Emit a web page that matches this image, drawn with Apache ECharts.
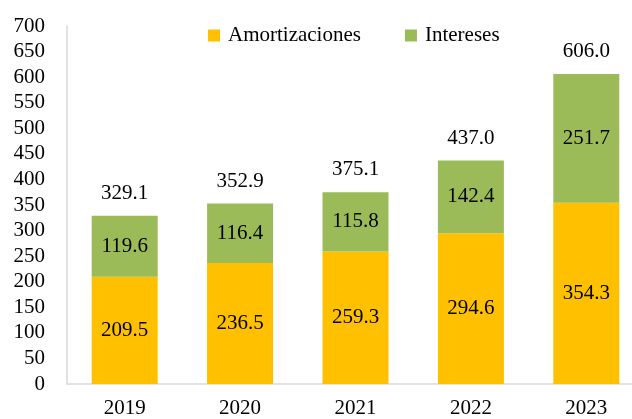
<!DOCTYPE html>
<html>
<head>
<meta charset="utf-8">
<script src="https://cdn.jsdelivr.net/npm/echarts@6/dist/echarts.min.js"></script>
<style>
  html, body { margin: 0; padding: 0; background: #fff; overflow: hidden; }
  #main { width: 644px; height: 419px; }
</style>
</head>
<body>
<div id="main"></div>
<script>
var years = ['2019', '2020', '2021', '2022', '2023'];
var amortizaciones = [209.5, 236.5, 259.3, 294.6, 354.3];
var intereses = [119.6, 116.4, 115.8, 142.4, 251.7];
var totales = years.map(function (y, i) {
    return +(amortizaciones[i] + intereses[i]).toFixed(1);
});

var font = 'Liberation Serif';
var fs = 21;
var myChart = echarts.init(document.getElementById('main'));
var option = {
    animation: false,
    textStyle: { fontFamily: font },
    legend: {
        data: ['Amortizaciones', 'Intereses'],
        left: 203,
        top: 20,
        itemWidth: 12,
        itemHeight: 12,
        itemGap: 44,
        icon: 'rect',
        textStyle: { fontFamily: font, fontSize: fs, color: '#000', padding: [0, 0, 0, 3] }
    },
    // plot area runs past the right edge of the 632px window, as in the source
    grid: { left: 67, top: 26, right: 0, bottom: 35 },
    xAxis: {
        type: 'category',
        data: years,
        axisLine: { lineStyle: { color: '#d9d9d9', width: 1.5 } },
        axisTick: { show: false },
        axisLabel: { color: '#000', fontSize: fs, fontFamily: font, margin: 14 }
    },
    yAxis: {
        type: 'value',
        min: 0,
        max: 700,
        interval: 50,
        splitLine: { show: false },
        axisLine: { show: true, lineStyle: { color: '#d9d9d9', width: 1.5 } },
        axisTick: { show: false },
        axisLabel: { color: '#000', fontSize: fs, fontFamily: font, margin: 22 }
    },
    series: [
        {
            name: 'Total',
            type: 'bar',
            data: totales,
            barWidth: 66,
            barGap: '-100%',
            z: 1,
            itemStyle: { color: 'rgba(0,0,0,0)' },
            label: {
                show: true, position: 'top', distance: 12,
                color: '#000', fontSize: fs, fontFamily: font,
                formatter: function (p) { return p.value.toFixed(1); }
            },
            tooltip: { show: false }
        },
        {
            name: 'Amortizaciones',
            type: 'bar',
            stack: 'a',
            data: amortizaciones,
            barWidth: 66,
            z: 2,
            itemStyle: { color: '#FFC000' },
            label: {
                show: true, position: 'inside',
                color: '#000', fontSize: fs, fontFamily: font,
                formatter: function (p) { return p.value.toFixed(1); }
            }
        },
        {
            name: 'Intereses',
            type: 'bar',
            stack: 'a',
            data: intereses,
            barWidth: 66,
            z: 2,
            itemStyle: { color: '#9BBB59' },
            label: {
                show: true, position: 'inside',
                color: '#000', fontSize: fs, fontFamily: font,
                formatter: function (p) { return p.value.toFixed(1); }
            }
        }
    ]
};
myChart.setOption(option);
</script>
</body>
</html>
